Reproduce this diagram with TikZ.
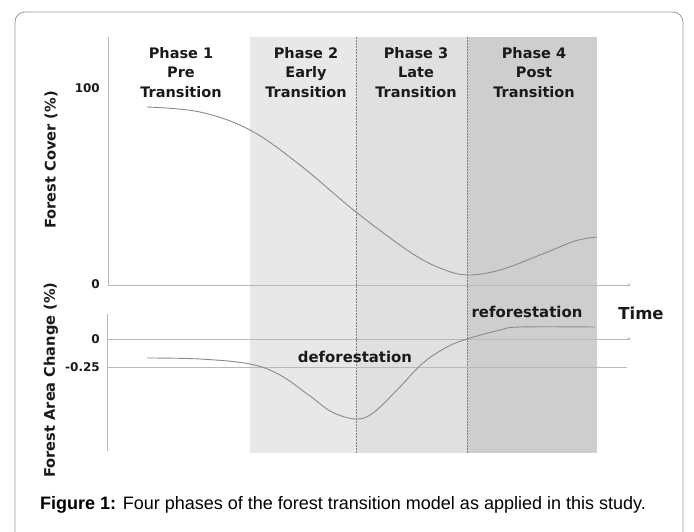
\documentclass[tikz,border=0pt]{standalone}
\usepackage{fontspec}
\setmainfont{Liberation Sans}
\newfontfamily\dvb{DejaVu Sans}[BoldFont={DejaVu Sans Bold}]
\usetikzlibrary{arrows.meta}
\definecolor{ptwo}{HTML}{E8E8E8}
\definecolor{pthree}{HTML}{E0E0E0}
\definecolor{pfour}{HTML}{CECECE}
\definecolor{axisgray}{HTML}{B8B8B8}
\definecolor{curvegray}{HTML}{8A8A8A}
\definecolor{txt}{HTML}{1A1A1A}
\tikzset{
  phaselbl/.style={font=\dvb\bfseries\fontsize{14.5}{19.5}\selectfont, align=center, text=txt, inner sep=0pt},
  ticklbl/.style={font=\dvb\bfseries\fontsize{12}{14}\selectfont, text=txt, inner sep=0pt},
  axislbl/.style={font=\dvb\bfseries\fontsize{14.6}{16}\selectfont, text=txt, inner sep=0pt, rotate=90},
  curvelbl/.style={font=\dvb\bfseries\fontsize{14.9}{17}\selectfont, text=txt, inner sep=0pt},
  axisline/.style={draw=axisgray, line width=0.8pt},
  curve/.style={draw=curvegray, line width=0.9pt},
  divider/.style={draw=gray, line width=0.6pt, dash pattern=on 1.5pt off 1.5pt},
}
\begin{document}
\begin{tikzpicture}[x=1pt,y=-1pt]
\useasboundingbox (0,0) rectangle (694,531);
\begin{scope}
\clip (0,0) rectangle (694,531);
\draw[draw=gray!80, line width=0.8pt, rounded corners=10pt] (15,12) rectangle (683,560);
\end{scope}
% shaded phases
\fill[ptwo] (250,37) rectangle (356,453);
\fill[pthree] (356,37) rectangle (467,453);
\fill[pfour] (467,37) rectangle (597,453);
\draw[divider] (356,37) -- (356,453);
\draw[divider] (467,37) -- (467,453);
% top axes
\coordinate (ytop) at (108,37);
\coordinate (orig) at (108,285);
\coordinate (xend) at (631,285);
\draw[axisline] (ytop) -- (orig);
\draw[axisline, -{Stealth[length=4pt,width=3pt]}] (orig) -- (xend);
% bottom axes
\coordinate (bytop) at (107,314);
\coordinate (bybot) at (107,451);
\coordinate (zl) at (108,339);
\coordinate (zr) at (631,339);
\coordinate (ql) at (108,367);
\coordinate (qr) at (627,367);
\draw[axisline] (bytop) -- (bybot);
\draw[axisline, -{Stealth[length=4pt,width=3pt]}] (zl) -- (zr);
\draw[axisline] (ql) -- (qr);
% curves
\draw[curve] plot[smooth, tension=0.6] coordinates {(147,107) (200,112) (250,130) (300,165) (356,212) (410,252) (440,268) (467,275) (500,270) (540,255) (575,241) (597,237)};
\draw[curve] plot[smooth, tension=0.6] coordinates {(147,358) (200,359) (250,364) (280,375) (310,396) (332,412) (356,419) (373,413) (397,390) (423,363) (447,347) (467,339) (500,330) (520,327) (595,327)};
% labels
\node[phaselbl] (p1) at (181,72.5) {Phase 1\\Pre\\Transition};
\node[phaselbl] (p2) at (306,72.5) {Phase 2\\Early\\Transition};
\node[phaselbl] (p3) at (416,72.5) {Phase 3\\Late\\Transition};
\node[phaselbl] (p4) at (534,72.5) {Phase 4\\Post\\Transition};
\node[ticklbl, anchor=east] (t100) at (100,88) {100};
\node[ticklbl, anchor=east] (t0) at (100,284) {0};
\node[ticklbl, anchor=east] (b0) at (100,339) {0};
\node[ticklbl, anchor=east] (bq) at (100,367) {-0.25};
\node[axislbl] (yl1) at (51,160) {Forest Cover (\%)};
\node[axislbl] (yl2) at (51,380) {Forest Area Change (\%)};
\node[curvelbl] (def) at (355,357) {deforestation};
\node[curvelbl] (ref) at (527,312) {reforestation};
\node[curvelbl, font=\dvb\bfseries\fontsize{16.5}{18}\selectfont] (time) at (641,313) {Time};
\node[font=\fontsize{18}{21}\selectfont, anchor=west, inner sep=0pt] (cap) at (40,505) {\textbf{Figure 1:} Four phases of the forest transition model as applied in this study.};
\end{tikzpicture}
\end{document}
